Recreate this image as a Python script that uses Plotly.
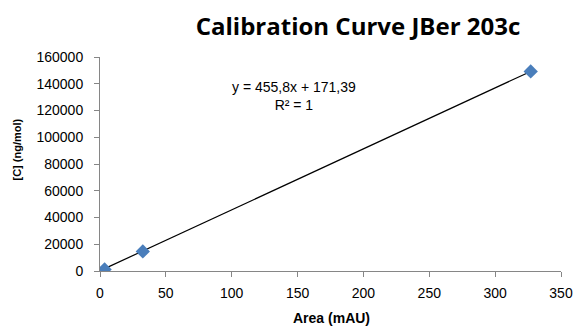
import plotly.graph_objects as go

area = [3.5, 32.5, 327.0]
conc = [1200, 14600, 149200]
slope = 455.8
intercept = 171.39
x_ticks = [0, 50, 100, 150, 200, 250, 300, 350]
y_ticks = [0, 20000, 40000, 60000, 80000, 100000, 120000, 140000, 160000]

font = "Liberation Sans"
line_x = [min(area), max(area)]
line_y = [slope * v + intercept for v in line_x]

W, H = 575, 326
L, R, T, B = 100, 14, 57, 55
pw, ph = W - L - R, H - T - B

fig = go.Figure()
fig.add_trace(go.Scatter(x=line_x, y=line_y, mode="lines",
                         line=dict(color="black", width=1.2), showlegend=False))
fig.add_trace(go.Scatter(x=area, y=conc, mode="markers",
                         marker=dict(symbol="diamond", size=11, color="#4a7ebb",
                                     line=dict(width=0)), showlegend=False))

axis_common = dict(showgrid=False, zeroline=False, showline=True, linecolor="#868686",
                   linewidth=1, ticks="outside", ticklen=5, tickcolor="#868686",
                   automargin=False,
                   tickfont=dict(family=font, size=14, color="black"))

fig.update_layout(
    width=W, height=H,
    margin=dict(l=L, r=R, t=T, b=B),
    paper_bgcolor="white", plot_bgcolor="white",
    title=dict(text="<b>Calibration Curve JBer 203c</b>", x=358 / W, xanchor="center",
               y=1 - 27 / H, yanchor="middle", automargin=False,
               font=dict(family="Open Sans", size=24, color="black")),
    xaxis=dict(range=[0, 350], tickvals=x_ticks, ticktext=[str(v) for v in x_ticks],
               ticklabelstandoff=4, **axis_common),
    yaxis=dict(range=[0, 160000], tickvals=y_ticks, ticktext=[str(v) for v in y_ticks],
               ticklabelstandoff=8, **axis_common),
    annotations=[
        dict(text="y = 455,8x + 171,39<br>R² = 1", x=(294 - L) / pw, y=(T + ph - 96) / ph,
             xref="paper", yref="paper", xanchor="center", yanchor="middle",
             showarrow=False, font=dict(family=font, size=14, color="black"), align="center"),
        dict(text="<b>Area (mAU)</b>", x=(331 - L) / pw, y=-(318 - T - ph) / ph,
             xref="paper", yref="paper", xanchor="center", yanchor="middle",
             showarrow=False, font=dict(family=font, size=14, color="black")),
        dict(text="<b>[C] (ng/mol)</b>", x=-(L - 16.5) / pw, y=(T + ph - 150) / ph,
             xref="paper", yref="paper", xanchor="center", yanchor="middle", textangle=-90,
             showarrow=False, font=dict(family=font, size=11, color="black")),
    ],
)

fig.write_html("out.html",
               config={"displayModeBar": False, "staticPlot": True},
               post_script="document.body.style.margin='0';document.body.style.overflow='hidden';")
